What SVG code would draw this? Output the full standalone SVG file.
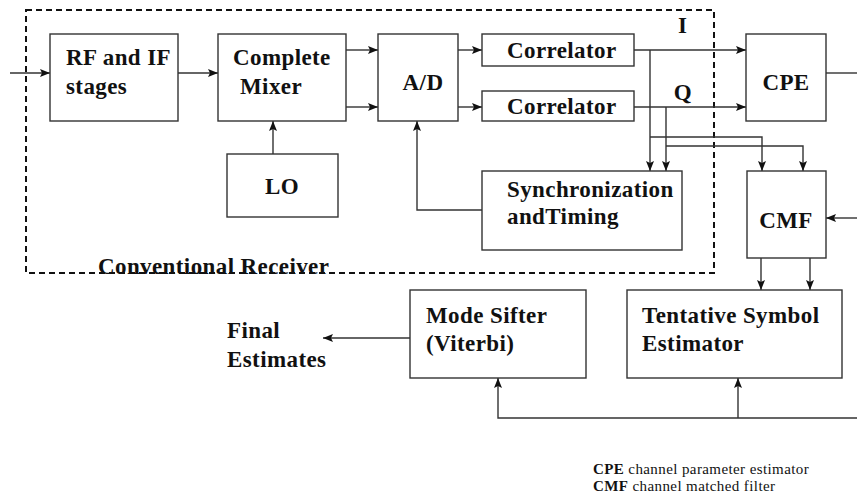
<svg xmlns="http://www.w3.org/2000/svg" width="857" height="496" viewBox="0 0 857 496">
<style>
.box{fill:#fff;stroke:#333;stroke-width:1.4}
.t{font-family:"Liberation Serif","Times New Roman",serif;font-weight:bold;font-size:23px;letter-spacing:0.4px;fill:#111}
.n{font-family:"Liberation Serif","Times New Roman",serif;font-size:15px;letter-spacing:0.4px;fill:#111}
.c{fill:none;stroke:#333;stroke-width:1.4}
.a{marker-end:url(#ah)}
</style>
<defs>
<marker id="ah" markerUnits="userSpaceOnUse" markerWidth="10" markerHeight="8" refX="10" refY="4" orient="auto">
<path d="M0,0 L10,4 L0,8 L2,4 z" fill="#111"/>
</marker>
</defs>
<rect x="26" y="10" width="688" height="263" fill="none" stroke="#111" stroke-width="2" stroke-dasharray="6,4"/>
<g id="connectors">
<path class="c a" d="M10,73 H50"/>
<path class="c a" d="M178,73 H218"/>
<path class="c a" d="M346,50 H378"/>
<path class="c a" d="M346,107 H378"/>
<path class="c a" d="M458,50 H482"/>
<path class="c a" d="M458,107 H482"/>
<path class="c a" d="M634,50 H746"/>
<path class="c a" d="M634,107 H746"/>
<path class="c" d="M826,73 H857"/>
<path class="c a" d="M273,154 V121"/>
<path class="c a" d="M650,50 V171"/>
<path class="c a" d="M650,137 H762 V171"/>
<path class="c a" d="M666,107 V171"/>
<path class="c a" d="M666,146 H803 V171"/>
<path class="c a" d="M482,210 H417 V121"/>
<path class="c a" d="M857,218 H826"/>
<path class="c a" d="M761,258 V290"/>
<path class="c a" d="M810,258 V290"/>
<path class="c a" d="M410,338 H323"/>
<path class="c a" d="M857,418 H498 V378"/>
<path class="c a" d="M738,418 V378"/>
</g>
<g id="rf"><rect class="box" x="50" y="34" width="128" height="87"/><text class="t" x="66" y="65">RF and IF</text><text class="t" x="66" y="94">stages</text></g>
<g id="mixer"><rect class="box" x="218" y="34" width="128" height="87"/><text class="t" x="233" y="65">Complete</text><text class="t" x="240" y="94">Mixer</text></g>
<g id="ad"><rect class="box" x="378" y="34" width="80" height="87"/><text class="t" x="423" y="90" text-anchor="middle">A/D</text></g>
<g id="corr1"><rect class="box" x="482" y="34" width="152" height="32"/><text class="t" x="507" y="58">Correlator</text></g>
<g id="corr2"><rect class="box" x="482" y="91" width="152" height="30"/><text class="t" x="507" y="114">Correlator</text></g>
<g id="cpe"><rect class="box" x="746" y="34" width="80" height="87"/><text class="t" x="786" y="90" text-anchor="middle">CPE</text></g>
<g id="lo"><rect class="box" x="227" y="154" width="111" height="63"/><text class="t" x="282" y="194" text-anchor="middle">LO</text></g>
<g id="sync"><rect class="box" x="482" y="171" width="200" height="79"/><text class="t" x="507" y="197">Synchronization</text><text class="t" x="507" y="224">andTiming</text></g>
<g id="cmf"><rect class="box" x="747" y="171" width="79" height="87"/><text class="t" x="786" y="228" text-anchor="middle">CMF</text></g>
<g id="tse"><rect class="box" x="627" y="290" width="215" height="88"/><text class="t" x="642" y="323">Tentative Symbol</text><text class="t" x="642" y="351">Estimator</text></g>
<g id="mode"><rect class="box" x="410" y="290" width="176" height="88"/><text class="t" x="426" y="323">Mode Sifter</text><text class="t" x="426" y="351">(Viterbi)</text></g>
<g id="labels">
<text class="t" x="678" y="33">I</text>
<text class="t" x="683" y="100" text-anchor="middle">Q</text>
<text class="t" x="98" y="274">Conventional Receiver</text>
<text class="t" x="227" y="338">Final</text>
<text class="t" x="227" y="367">Estimates</text>
<text class="n" x="593" y="474"><tspan font-weight="bold">CPE</tspan> channel parameter estimator</text>
<text class="n" x="593" y="491"><tspan font-weight="bold">CMF</tspan> channel matched filter</text>
</g>
</svg>
